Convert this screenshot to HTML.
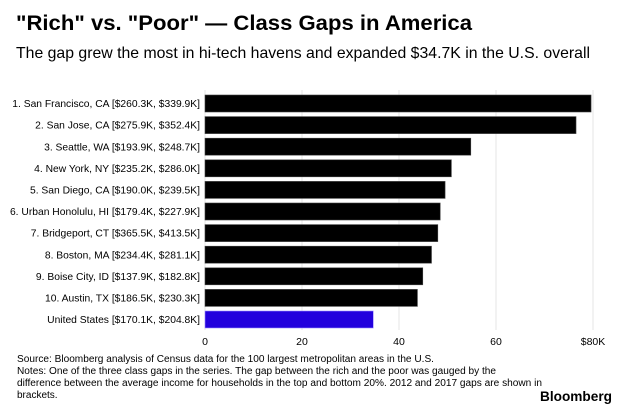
<!DOCTYPE html>
<html><head><meta charset="utf-8"><style>
body{margin:0;background:#fff;}
svg{display:block;font-family:"Liberation Sans",Arial,sans-serif;}
</style></head><body>
<svg width="620" height="409" viewBox="0 0 620 409" xmlns="http://www.w3.org/2000/svg">
<text x="16" y="30" font-size="21" font-weight="bold" fill="#000" textLength="456" lengthAdjust="spacingAndGlyphs">"Rich" vs. "Poor" — Class Gaps in America</text>
<text x="16" y="58" font-size="16" fill="#000" textLength="574" lengthAdjust="spacingAndGlyphs">The gap grew the most in hi-tech havens and expanded $34.7K in the U.S. overall</text>
<g id="grid"></g><g id="bars"></g><g id="labels"></g><g id="ticks"></g>
<g font-size="10" fill="#000">
<text x="17" y="362" textLength="417" lengthAdjust="spacingAndGlyphs">Source: Bloomberg analysis of Census data for the 100 largest metropolitan areas in the U.S.</text>
<text x="17" y="374" textLength="479" lengthAdjust="spacingAndGlyphs">Notes: One of the three class gaps in the series. The gap between the rich and the poor was gauged by the</text>
<text x="17" y="386" textLength="525" lengthAdjust="spacingAndGlyphs">difference between the average income for households in the top and bottom 20%. 2012 and 2017 gaps are shown in</text>
<text x="17" y="398">brackets.</text>
</g>
<text x="612" y="401" text-anchor="end" font-size="14" font-weight="bold" fill="#000" textLength="72" lengthAdjust="spacingAndGlyphs">Bloomberg</text>
</svg>
<script>
const categories=["1. San Francisco, CA [$260.3K, $339.9K]","2. San Jose, CA [$275.9K, $352.4K]","3. Seattle, WA [$193.9K, $248.7K]","4. New York, NY [$235.2K, $286.0K]","5. San Diego, CA [$190.0K, $239.5K]","6. Urban Honolulu, HI [$179.4K, $227.9K]","7. Bridgeport, CT [$365.5K, $413.5K]","8. Boston, MA [$234.4K, $281.1K]","9. Boise City, ID [$137.9K, $182.8K]","10. Austin, TX [$186.5K, $230.3K]","United States [$170.1K, $204.8K]"];
const gapValues=[79.6,76.5,54.8,50.8,49.5,48.5,48.0,46.7,44.9,43.8,34.7];
const tickValues=[0,20,40,60,80];
const tickLabels=["0","20","40","60","$80K"];
const NS="http://www.w3.org/2000/svg";
const x0=205,x1=593,xmax=80;
const xs=v=>x0+(x1-x0)*v/xmax;
const yTop=95,step=21.6,bh=17;
const ys=i=>yTop+i*step;
function mk(t,a,p){const e=document.createElementNS(NS,t);for(const k in a)e.setAttribute(k,a[k]);p.appendChild(e);return e;}
const grid=document.getElementById('grid'),bars=document.getElementById('bars'),labels=document.getElementById('labels'),ticks=document.getElementById('ticks');
tickValues.forEach((v,i)=>{
 const l=mk('line',{x1:xs(v),x2:xs(v),y1:90,y2:330,stroke:'#e6e6e6','stroke-width':1},grid);
 
 
 const t=mk('text',{x:xs(v),y:345,'text-anchor':'middle','font-size':'10.5',fill:'#000'},ticks);
 
 
 t.textContent=tickLabels[i];
});
categories.forEach((c,i)=>{
 const r=mk('rect',{x:x0,y:ys(i),width:xs(gapValues[i])-x0,height:bh,fill:i===categories.length-1?'#2200dd':'#000',stroke:i===categories.length-1?'#9b8cff':'#444','stroke-width':0.6},bars);
 
 
 const t=mk('text',{x:200,y:ys(i)+bh/2+3.6,'text-anchor':'end','font-size':'10.3',fill:'#000'},labels);
 
 
 t.textContent=c;
});
</script>
</body></html>
